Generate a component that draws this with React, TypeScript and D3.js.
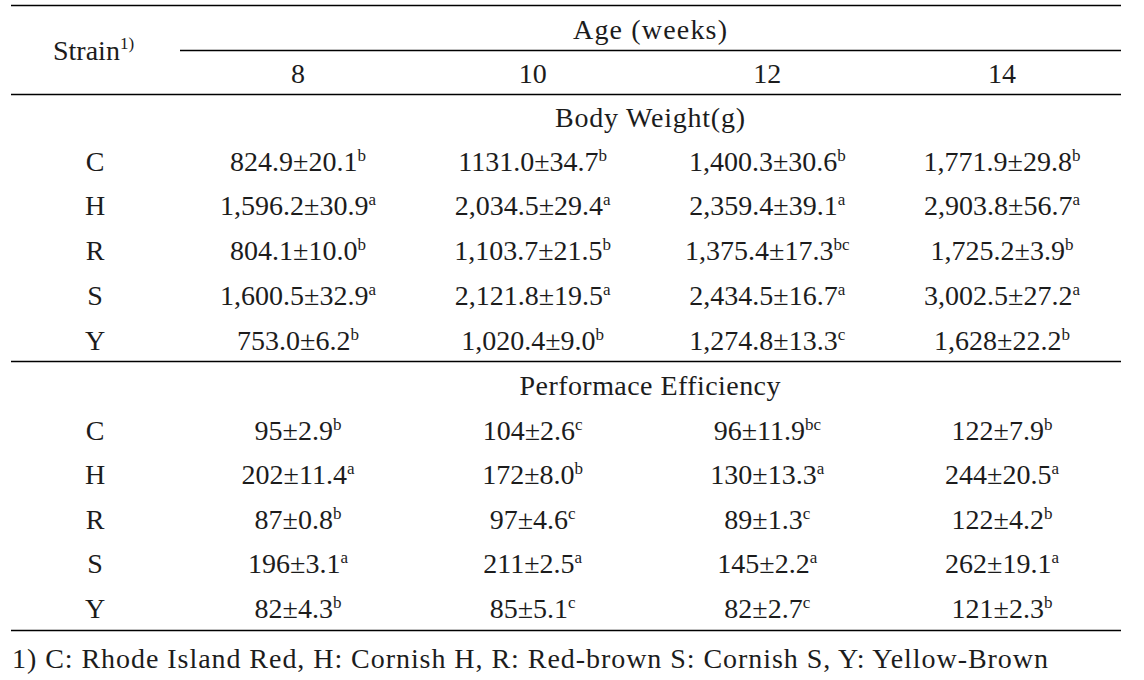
import React from "react";
import * as d3 from "d3";

const strains = ["C", "H", "R", "S", "Y"];
const ages = ["8", "10", "12", "14"];
const sections = ["Body Weight(g)", "Performace Efficiency"];

// Body weight (g): mean, SD, significance letters per strain across ages 8,10,12,14
const bwMean = [
  ["824.9", "1131.0", "1,400.3", "1,771.9"],
  ["1,596.2", "2,034.5", "2,359.4", "2,903.8"],
  ["804.1", "1,103.7", "1,375.4", "1,725.2"],
  ["1,600.5", "2,121.8", "2,434.5", "3,002.5"],
  ["753.0", "1,020.4", "1,274.8", "1,628"],
];
const bwSd = [
  ["20.1", "34.7", "30.6", "29.8"],
  ["30.9", "29.4", "39.1", "56.7"],
  ["10.0", "21.5", "17.3", "3.9"],
  ["32.9", "19.5", "16.7", "27.2"],
  ["6.2", "9.0", "13.3", "22.2"],
];
const bwLetter = [
  ["b", "b", "b", "b"],
  ["a", "a", "a", "a"],
  ["b", "b", "bc", "b"],
  ["a", "a", "a", "a"],
  ["b", "b", "c", "b"],
];

// Performance efficiency
const peMean = [
  ["95", "104", "96", "122"],
  ["202", "172", "130", "244"],
  ["87", "97", "89", "122"],
  ["196", "211", "145", "262"],
  ["82", "85", "82", "121"],
];
const peSd = [
  ["2.9", "2.6", "11.9", "7.9"],
  ["11.4", "8.0", "13.3", "20.5"],
  ["0.8", "4.6", "1.3", "4.2"],
  ["3.1", "2.5", "2.2", "19.1"],
  ["4.3", "5.1", "2.7", "2.3"],
];
const peLetter = [
  ["b", "c", "bc", "b"],
  ["a", "b", "a", "a"],
  ["b", "c", "c", "b"],
  ["a", "a", "a", "a"],
  ["b", "c", "c", "b"],
];

const footnote =
  "1) C: Rhode Island Red, H: Cornish H, R: Red-brown S: Cornish S, Y: Yellow-Brown";

const W = 1144;
const H = 680;
const FONT = "'Liberation Serif', 'Times New Roman', serif";
const FS = 28;
const SUP = 17;
const INK = "#1c1c1c";

export default function App() {
  const x = d3.scalePoint<string>().domain(ages).range([298, 1002]);
  const strainX = 95;
  const yBW = d3.scalePoint<string>().domain(strains).range([161, 340]);
  const yPE = d3.scalePoint<string>().domain(strains).range([430, 608]);
  const base = 9.5; // baseline offset from visual center
  const left = 11;
  const right = 1121;

  const cell = (
    key: string,
    cx: number,
    cy: number,
    m: string,
    s: string,
    l: string
  ) => (
    <text
      key={key}
      x={cx}
      y={cy + base}
      textAnchor="middle"
      fontFamily={FONT}
      fontSize={FS}
      fill={INK}
    >
      {m}±{s}
      <tspan fontSize={SUP} dy={-10}>
        {l}
      </tspan>
    </text>
  );

  const block = (
    y: d3.ScalePoint<string>,
    mean: string[][],
    sd: string[][],
    let_: string[][],
    tag: string
  ) =>
    strains.map((st, i) => (
      <g key={tag + st}>
        <text
          x={strainX}
          y={(y(st) as number) + base}
          textAnchor="middle"
          fontFamily={FONT}
          fontSize={FS}
          fill={INK}
        >
          {st}
        </text>
        {ages.map((a, j) =>
          cell(tag + st + a, x(a) as number, y(st) as number, mean[i][j], sd[i][j], let_[i][j])
        )}
      </g>
    ));

  return (
    <div style={{ position: "fixed", left: 0, top: 0, background: "#fff" }}>
      <svg width={W} height={H} viewBox={`0 0 ${W} ${H}`} style={{ display: "block" }}>
        <rect width={W} height={H} fill="#fff" />
        {/* rules */}
        <line x1={left} x2={right} y1={5.5} y2={5.5} stroke="#000" strokeWidth={1.3} />
        <line x1={180} x2={right} y1={50.5} y2={50.5} stroke="#000" strokeWidth={1.3} />
        <line x1={left} x2={right} y1={94.5} y2={94.5} stroke="#000" strokeWidth={1.3} />
        <line x1={left} x2={right} y1={361.5} y2={361.5} stroke="#000" strokeWidth={1.3} />
        <line x1={left} x2={right} y1={630.5} y2={630.5} stroke="#000" strokeWidth={1.3} />

        {/* header */}
        <text x={53} y={60} fontFamily={FONT} fontSize={FS} fill={INK}>
          Strain
          <tspan fontSize={SUP} dy={-11}>
            1)
          </tspan>
        </text>
        <text
          x={650}
          y={29 + base}
          textAnchor="middle"
          fontFamily={FONT}
          fontSize={FS}
          fill={INK}
          textLength={154}
          lengthAdjust="spacing"
        >
          Age (weeks)
        </text>
        {ages.map((a) => (
          <text
            key={"age" + a}
            x={x(a) as number}
            y={73 + base}
            textAnchor="middle"
            fontFamily={FONT}
            fontSize={FS}
            fill={INK}
          >
            {a}
          </text>
        ))}

        <text
          x={650}
          y={117 + base}
          textAnchor="middle"
          fontFamily={FONT}
          fontSize={FS}
          fill={INK}
          textLength={190}
          lengthAdjust="spacing"
        >
          {sections[0]}
        </text>
        {block(yBW, bwMean, bwSd, bwLetter, "bw")}

        <text
          x={650}
          y={385 + base}
          textAnchor="middle"
          fontFamily={FONT}
          fontSize={FS}
          fill={INK}
          textLength={261}
          lengthAdjust="spacing"
        >
          {sections[1]}
        </text>
        {block(yPE, peMean, peSd, peLetter, "pe")}

        <text
          x={12}
          y={668}
          fontFamily={FONT}
          fontSize={FS}
          fill={INK}
          textLength={1036}
          lengthAdjust="spacing"
        >
          {footnote}
        </text>
      </svg>
    </div>
  );
}
